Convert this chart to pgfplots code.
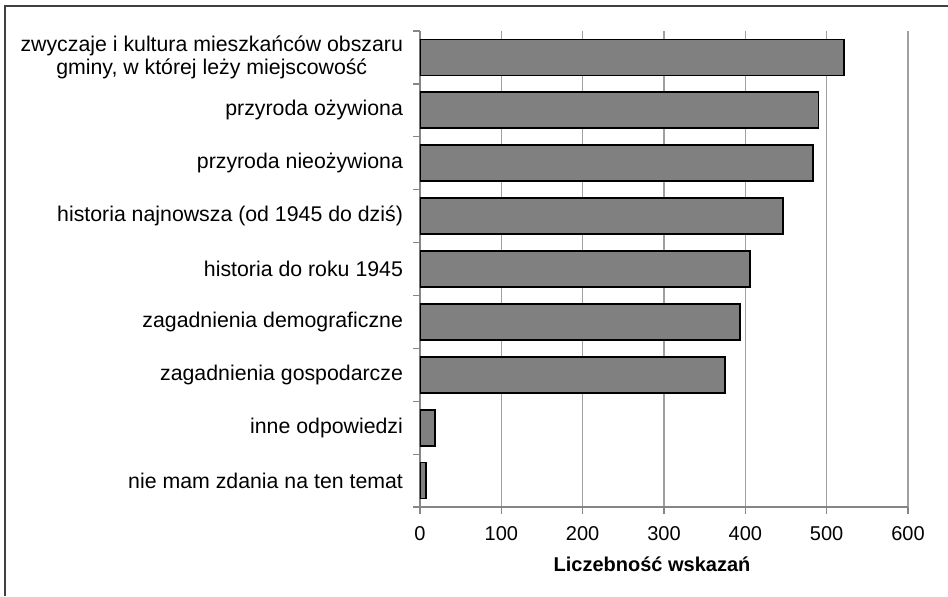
\documentclass[border=0pt]{standalone}
\usepackage{fontspec}
\setmainfont{Liberation Sans}
\usepackage{pgfplots}
\pgfplotsset{compat=1.18}
\definecolor{barfill}{HTML}{808080}
\definecolor{axisgray}{HTML}{868686}
\definecolor{gridgray}{HTML}{A0A0A0}
\definecolor{framegray}{HTML}{404040}

\begin{document}
\begin{tikzpicture}
\useasboundingbox (-210pt,-44.5pt) rectangle (264pt,253.5pt);
\draw[framegray, line width=0.8pt] (-207.5pt,-44.5pt) -- (-207.5pt,250.5pt) -- (264pt,250.5pt);
\begin{axis}[
    at={(0,0)}, anchor=south west,
    scale only axis,
    width=244pt, height=238pt,
    xbar,
    bar width=18pt,
    xmin=0, xmax=600,
    ymin=-0.5, ymax=8.5,
    axis x line*=bottom,
    axis y line*=left,
    axis line style={-, draw=axisgray, line width=0.6pt},
    xtick={0,100,...,600},
    ytick={-0.5,0.5,...,8.5},
    yticklabels={},
    major tick length=3.25pt,
    tick align=outside,
    tick style={draw=axisgray, line width=0.6pt},
    extra y ticks={0,...,8},
    extra y tick style={major tick length=0pt},
    extra y tick labels={
        nie mam zdania na ten temat,
        inne odpowiedzi,
        zagadnienia gospodarcze,
        zagadnienia demograficzne,
        historia do roku 1945,
        historia najnowsza (od 1945 do dziś),
        przyroda nieożywiona,
        przyroda ożywiona,
        {zwyczaje i kultura mieszkańców obszaru\\gminy, w której leży miejscowość}
    },
    yticklabel style={align=center, font=\fontsize{10.65}{11.5}\selectfont, xshift=-5pt},
    xticklabel style={font=\fontsize{10}{11}\selectfont, yshift=-3pt},
    /pgf/number format/assume math mode=true,
    xmajorgrids=true,
    ymajorgrids=false,
    grid style={draw=gridgray, line width=0.6pt},
    xlabel={Liczebność wskazań},
    xlabel style={font=\bfseries\fontsize{10}{11}\selectfont, xshift=-6pt, yshift=-1pt},
]
\addplot[fill=barfill, draw=black, line width=0.9pt] coordinates {
    (7,0) (18,1) (375,2) (393,3) (406,4) (446,5) (483,6) (490,7) (521,8)
};
\end{axis}
\end{tikzpicture}
\end{document}
